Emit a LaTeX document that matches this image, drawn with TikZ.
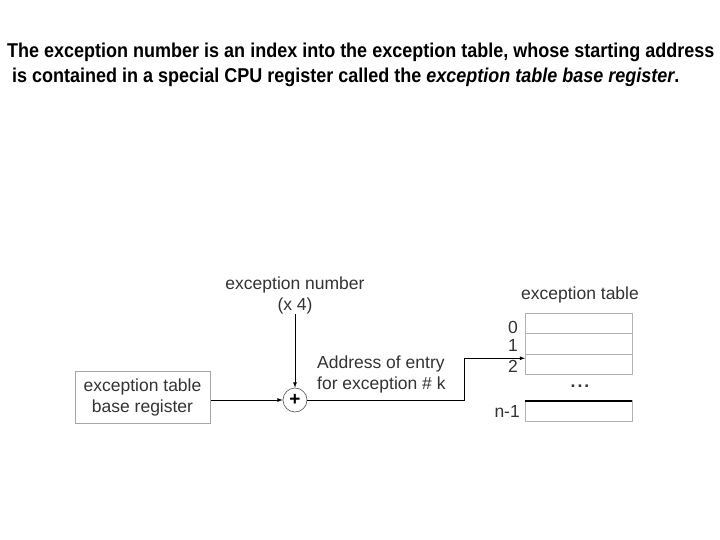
\documentclass[tikz,border=0pt]{standalone}
\usepackage{fontspec}
\setmainfont{Liberation Sans}
\newfontfamily\headfont[FakeStretch=0.9]{Liberation Sans}
\usetikzlibrary{arrows,positioning}

\begin{document}
\begin{tikzpicture}[x=1pt,y=-1pt,
  head/.style={font=\headfont\bfseries\fontsize{20}{24}\selectfont,anchor=west,inner sep=0pt},
  lbl/.style={font=\fontsize{17.5}{21}\selectfont,text=black!80,align=center,inner sep=0pt},
  regbox/.style={draw=gray!70,line width=1pt,minimum width=135pt,minimum height=52pt,align=center,inner sep=0pt},
  cell/.style={draw=gray!60,line width=1pt,minimum width=107pt,minimum height=20.5pt,inner sep=0pt,outer sep=0pt},
  conn/.style={line width=0.8pt,-latex}]
\useasboundingbox (0,0) rectangle (720,540);
% heading
\node[head] (t1) at (7,52) {The exception number is an index into the exception table, whose starting address};
\node[head] (t2) at (12,77) {is contained in a special CPU register called the \textit{exception table base register}.};
% register and adder
\node[regbox,lbl] (reg) at (142.5,397) {exception table\\base register};
\node[draw=black!60,line width=0.7pt,circle,minimum size=24pt,inner sep=0pt,font=\bfseries\fontsize{19}{19}\selectfont] (plus) at (295,400) {+};
\node[lbl] (num) at (295,295) {exception number\\(x 4)};
\node[lbl,align=left,anchor=west] (addr) at (317,374) {Address of entry\\for exception \# k};
% table
\node[lbl] (tabname) at (580,295) {exception table};
\node[cell] (c0) at (578.5,323.5) {};
\node[cell,below=0pt of c0] (c1) {};
\node[cell,below=0pt of c1] (c2) {};
\node[lbl] (dots) at (580,386) {\textbf{.\kern2pt.\kern2pt.}};
\node[cell] (cn) at (578.5,411) {};
\draw[line width=2pt] (cn.north west) -- (cn.north east);
\node[lbl,anchor=east] (i0) at (518,327) {0};
\node[lbl,anchor=east] (i1) at (518,345) {1};
\node[lbl,anchor=east] (i2) at (518,366) {2};
\node[lbl,anchor=east] (in) at (520,411) {n-1};
% connectors
\coordinate (bend) at (464,400);
\draw[conn] (num) -- (plus);
\draw[conn] (reg.east |- plus) -- (plus);
\draw[conn] (plus) -- (bend) |- ([yshift=-4pt]c2.north west);
\end{tikzpicture}
\end{document}
